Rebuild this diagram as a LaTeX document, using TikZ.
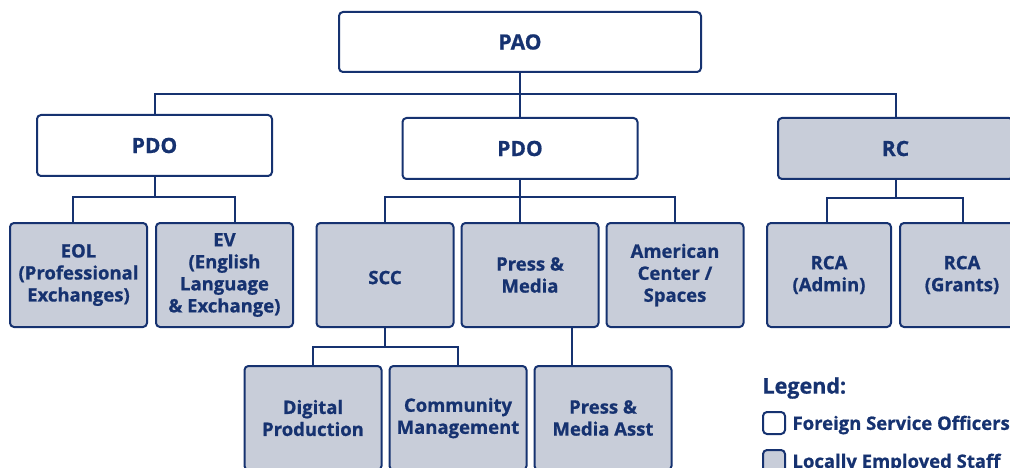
\documentclass[tikz,border=0pt]{standalone}
\usepackage{fontspec}
\setmainfont{Open Sans}[BoldFeatures={FakeBold=0.8}]
\definecolor{navy}{RGB}{22,50,112}
\definecolor{staffgray}{RGB}{200,205,217}
\begin{document}
\begin{tikzpicture}[x=1pt,y=-1pt,
	every node/.style={text=navy, font=\fontsize{18.5}{22}\selectfont\bfseries, align=center},
	fso/.style={draw=navy, line width=2pt, rounded corners=4pt, fill=white, inner sep=0pt},
	les/.style={fso, fill=staffgray},
	head/.style={minimum width=235, minimum height=61, font=\fontsize{21}{24}\selectfont\bfseries},
	unit/.style={minimum width=137, minimum height=104, execute at begin node={\rule{0pt}{1em}}},
	link/.style={draw=navy, line width=2pt}]
\useasboundingbox (0,0) rectangle (1010,468);
% top of the tree
\node[fso, head, minimum width=362, minimum height=60](pao) at (520,42) {PAO};
\node[fso, head](pdoL) at (154.5,145.5) {PDO};
\node[fso, head](pdoM) at (520,148.5) {PDO};
\node[les, head](rc) at (895.5,148.5) {RC};
% units
\node[les, unit](eol) at (78.5,275) {EOL\\(Professional\\Exchanges)};
\node[les, unit](ev) at (224.5,275) {EV\\(English\\Language\\\& Exchange)};
\node[les, unit](scc) at (385,275) {SCC};
\node[les, unit](press) at (530,275) {Press \&\\Media};
\node[les, unit](amc) at (675,275) {American\\Center /\\Spaces};
\node[les, unit, minimum width=124](rcaA) at (829,275) {RCA\\(Admin)};
\node[les, unit, minimum width=124](rcaG) at (962,275) {RCA\\(Grants)};
\node[les, unit](digi) at (313,418) {Digital\\Production};
\node[les, unit](comm) at (458,418) {Community\\Management};
\node[les, unit](asst) at (603,418) {Press \&\\Media Asst};
% branch points
\coordinate (bus) at (520,94);
\coordinate (busL) at (154.5,197);
\coordinate (busM) at (520,197);
\coordinate (busR) at (895.5,198);
\coordinate (busS) at (385,347);
\draw[link] (pao) -- (pdoM);
\draw[link] (pdoL.north) |- (bus) -| (rc.north);
\draw[link] (pdoL) -- (busL);
\draw[link] ([xshift=-5.5]eol.north) |- (busL) -| ([xshift=10.5]ev.north);
\draw[link] (pdoM.south) -- (press.north -| pdoM.south);
\draw[link] (scc.north) |- (busM) -| (amc.north);
\draw[link] (rc) -- (busR);
\draw[link] ([xshift=-2]rcaA.north) |- (busR) -| ([xshift=1]rcaG.north);
\draw[link] (scc) -- (busS);
\draw[link] (digi.north) |- (busS) -| (comm.north);
\draw[link] ([xshift=42]press.south) -- ([xshift=-31]asst.north);
% legend
\node[anchor=west, font=\fontsize{21.5}{24}\selectfont\bfseries](legend) at (759,388) {Legend:};
\node[fso, minimum size=22](keyF) at (774,423) {};
\node[les, minimum size=22](keyL) at (774,461) {};
\node[anchor=west, font=\fontsize{18.5}{22}\selectfont\bfseries] at ([xshift=3,yshift=-2]keyF.east) {Foreign Service Officers};
\node[anchor=west, font=\fontsize{18.5}{22}\selectfont\bfseries] at ([xshift=3,yshift=-2]keyL.east) {Locally Employed Staff};
\end{tikzpicture}
\end{document}
